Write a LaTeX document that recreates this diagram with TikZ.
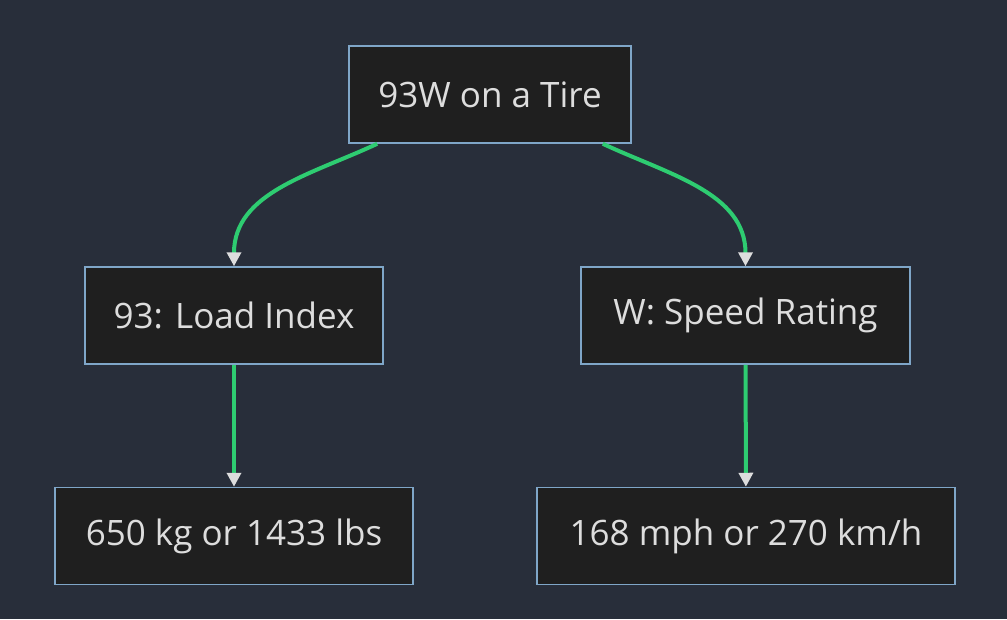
\documentclass[tikz,border=0pt]{standalone}
\usepackage{fontspec}
\setmainfont{Open Sans}
\usetikzlibrary{arrows.meta}
\definecolor{bgc}{HTML}{282E3A}
\definecolor{boxc}{HTML}{1F1F1F}
\definecolor{edgec}{HTML}{7FA6C8}
\definecolor{linkc}{HTML}{2ECC71}
\definecolor{txtc}{HTML}{DDDDDD}
\tikzset{
  box/.style = {draw = edgec, fill = boxc, line width = 1.5pt, text = txtc,
    minimum height = 97pt, inner xsep = 10pt,
    font = \fontsize{35}{40}\selectfont},
  link/.style = {draw = linkc, line width = 4pt,
    -{Triangle[color = txtc, length = 14pt, width = 14pt]}}
}
\begin{document}
\begin{tikzpicture}[x = 1pt, y = -1pt]

% Background
    \fill[bgc] (0, 0) rectangle (1007, 619);

% Nodes
    \node[box, minimum width = 282pt] (tire) at (490, 94.5) {93W on a Tire};
    \node[box, minimum width = 298pt] (load) at (234, 315.5) {93: Load Index};
    \node[box, minimum width = 329pt] (speed) at (745.5, 315.5) {W: Speed Rating};
    \node[box, minimum width = 358pt] (kg) at (234, 536) {650 kg or 1433 lbs};
    \node[box, minimum width = 418pt] (mph) at (746, 536) {168 mph or 270 km/h};

% Directions
    \draw[link] ([xshift = 29pt]tire.south west) to[out = 205, in = 90] (load.north);
    \draw[link] ([xshift = -29pt]tire.south east) to[out = -25, in = 90] (speed.north);
    \draw[link] (load) -- (kg);
    \draw[link] (speed) -- (mph);

\end{tikzpicture}
\end{document}
